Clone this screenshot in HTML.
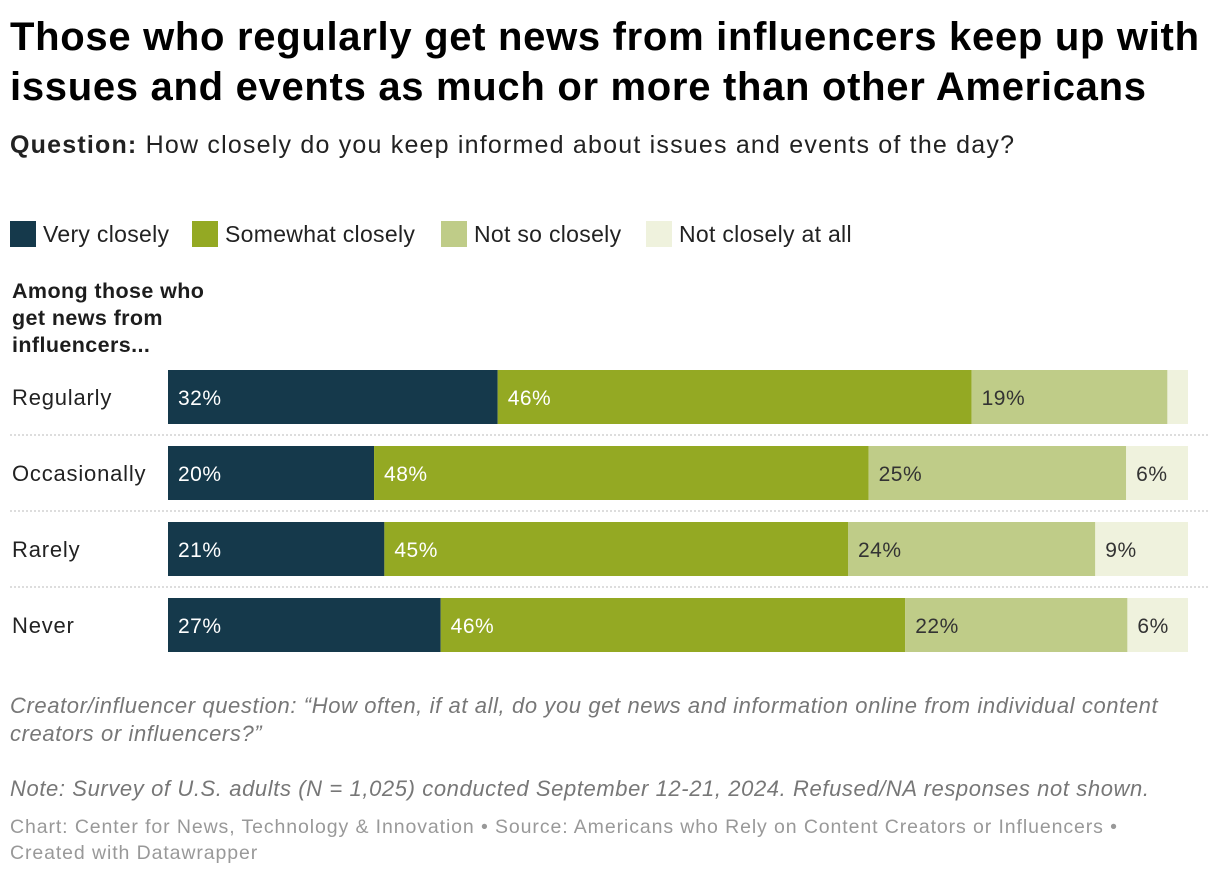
<!DOCTYPE html>
<html><head><meta charset="utf-8">
<style>
body{margin:0;width:1220px;height:878px;background:#fff;font-family:"Liberation Sans",sans-serif;color:#1d1d1d;position:relative;overflow:hidden}
.a{position:absolute;white-space:nowrap}
.title{left:10px;top:12px;font-size:40px;font-weight:bold;line-height:50px;color:#000;letter-spacing:0.7px}
.sub{left:10px;top:131px;font-size:25px;color:#222;letter-spacing:1.2px}
.leg{top:221px;font-size:23px;color:#222;letter-spacing:0.3px}
.sw{display:inline-block;width:26px;height:26px;vertical-align:-5px;margin-right:7px}
.hdr{left:12px;top:278px;font-size:21.5px;font-weight:bold;line-height:27px;letter-spacing:0.4px}
.note{left:10px;font-size:22px;font-style:italic;color:#777;letter-spacing:0.6px}
.foot{left:10px;font-size:19.5px;color:#999;line-height:26px;letter-spacing:0.9px}
</style></head><body>
<div class="a title">Those who regularly get news from influencers keep up with<br>issues and events as much or more than other Americans</div>
<div class="a sub"><b>Question:</b> How closely do you keep informed about issues and events of the day?</div>
<div class="a leg" style="left:10px"><span class="sw" style="background:#15394b"></span>Very closely</div>
<div class="a leg" style="left:192px"><span class="sw" style="background:#94a923"></span>Somewhat closely</div>
<div class="a leg" style="left:441px"><span class="sw" style="background:#bfcc88"></span>Not so closely</div>
<div class="a leg" style="left:646px"><span class="sw" style="background:#eff2dd"></span>Not closely at all</div>
<div class="a hdr">Among those who<br>get news from<br>influencers...</div>
<svg id="chart" class="a" style="left:0;top:0" width="1220" height="878"></svg>
<div class="a note" style="top:692px;line-height:28px">Creator/influencer question: “How often, if at all, do you get news and information online from individual content<br>creators or influencers?”</div>
<div class="a note" style="top:776px">Note: Survey of U.S. adults (N = 1,025) conducted September 12-21, 2024. Refused/NA responses not shown.</div>
<div class="a foot" style="top:814px">Chart: Center for News, Technology &amp; Innovation • Source: Americans who Rely on Content Creators or Influencers •<br>Created with Datawrapper</div>
<script>
const categories=["Regularly","Occasionally","Rarely","Never"];
const veryClosely=[32,20,21,27];
const somewhatClosely=[46,48,45,46];
const notSoClosely=[19,25,24,22];
const notAtAll=[2,6,9,6];
const showLabel=[[true,true,true,false],[true,true,true,true],[true,true,true,true],[true,true,true,true]];
const series=[veryClosely,somewhatClosely,notSoClosely,notAtAll];
const colors=["#15394b","#94a923","#bfcc88","#eff2dd"];
const textColors=["#fff","#fff","#333","#333"];
const segNames=["very-closely","somewhat-closely","not-so-closely","not-at-all"];
const svg=document.getElementById('chart');
const NS='http://www.w3.org/2000/svg';
const x0=168,x1=1188,y0=370,pitch=76,bh=54;
categories.forEach((c,i)=>{
  const y=y0+i*pitch;
  const lab=document.createElementNS(NS,'text');
  lab.setAttribute('x',12);lab.setAttribute('y',y+bh/2+8);
  lab.setAttribute('font-size','22');lab.setAttribute('fill','#222');
  lab.setAttribute('letter-spacing','0.8');
  
  
  lab.textContent=c;svg.appendChild(lab);
  const tot=series.reduce((s,a)=>s+a[i],0);
  let x=x0;
  series.forEach((arr,k)=>{
    const w=arr[i]/tot*(x1-x0);
    const r=document.createElementNS(NS,'rect');
    r.setAttribute('x',x);r.setAttribute('y',y);r.setAttribute('width',w);r.setAttribute('height',bh);
    r.setAttribute('fill',colors[k]);
    
    
    svg.appendChild(r);
    if(showLabel[i][k]){
      const t=document.createElementNS(NS,'text');
      t.setAttribute('x',x+10);t.setAttribute('y',y+bh/2+8);
      t.setAttribute('font-size','21');t.setAttribute('fill',textColors[k]);
      t.setAttribute('letter-spacing','0.5');
      
      
      t.textContent=arr[i]+'%';svg.appendChild(t);
    }
    x+=w;
  });
  if(i<categories.length-1){
    const l=document.createElementNS(NS,'line');
    const ly=y+bh+11;
    l.setAttribute('x1',10);l.setAttribute('x2',1208);l.setAttribute('y1',ly);l.setAttribute('y2',ly);
    l.setAttribute('stroke','#bbb');l.setAttribute('stroke-dasharray','2,2');
    
    
    svg.appendChild(l);
  }
});
</script>
</body></html>
